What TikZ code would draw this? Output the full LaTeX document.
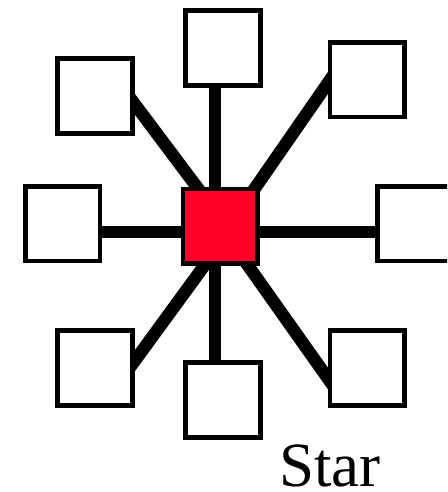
\documentclass[tikz,border=0pt]{standalone}
\usepackage{fontspec}
\setmainfont{Liberation Serif}
\usetikzlibrary{calc,backgrounds}
\definecolor{hubred}{RGB}{255,0,40}
\begin{document}
\begin{tikzpicture}[x=1pt,y=-1pt,
  boxnode/.style={draw=black,fill=white,line width=4.7pt,minimum size=74.7pt,inner sep=0pt,outer sep=0pt},
  hubnode/.style={boxnode,fill=hubred},
  link/.style={line width=12.5pt,black}]
\useasboundingbox (0,0) rectangle (447,492);
\clip (0,0) rectangle (447,492);
\node[hubnode] (c) at (220.2,226.3) {};
\node[boxnode] (top) at (223,48) {};
\node[boxnode] (tl) at (95,96) {};
\node[boxnode] (tr) at (367.2,79.7) {};
\node[boxnode] (l) at (62.7,223.7) {};
\node[boxnode] (r) at (415,223.7) {};
\node[boxnode] (bl) at (95,368) {};
\node[boxnode] (b) at (223,400) {};
\node[boxnode] (br) at (367.2,368) {};
\begin{scope}[on background layer]
\draw[link] ($(top)+(-8,0)$) -- ($(c)+(-5.2,0)$);
\draw[link] ($(b)+(-8,0)$) -- ($(c)+(-5.2,0)$);
\draw[link] ($(l)+(0,8.3)$) -- ($(c)+(0,5.7)$);
\draw[link] ($(r)+(0,8.3)$) -- ($(c)+(0,5.7)$);
\draw[link] ($(tl)+(29.7,-5.3)$) -- ($(c)+(-17.5,-31.6)$);
\draw[link] ($(tr)+(-33.9,-4.5)$) -- ($(c)+(28,-28.4)$);
\draw[link] ($(bl)+(32.7,2.5)$) -- ($(c)+(-9.1,30)$);
\draw[link] ($(br)+(-31.8,21)$) -- ($(c)+(21.2,29.9)$);
\end{scope}
\node[anchor=base west,inner sep=0pt] (label) at (279,486) {\fontsize{63}{70}\selectfont Star};
\end{tikzpicture}
\end{document}
